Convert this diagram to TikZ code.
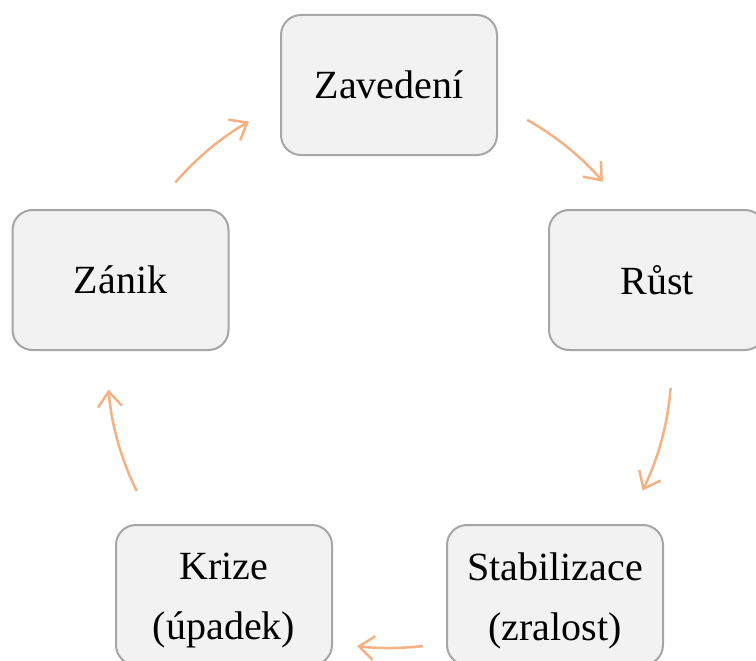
\documentclass[tikz,border=0pt]{standalone}
\usepackage{fontspec}
\setmainfont{Liberation Serif}
\usetikzlibrary{arrows.meta,calc}
\definecolor{boxfill}{HTML}{F2F2F2}
\definecolor{boxline}{HTML}{A6A6A6}
\definecolor{arrcol}{HTML}{F4B183}
\begin{document}
\begin{tikzpicture}[x=1pt,y=-1pt,
  stage/.style={draw=boxline,fill=boxfill,line width=2pt,rounded corners=20pt,
    minimum width=216pt,minimum height=140pt,align=center,inner sep=0pt,
    font=\fontsize{40}{60}\selectfont},
  lbl/.style={align=center,inner sep=0pt,font=\fontsize{40}{60}\selectfont},
  cyc/.style={draw=arrcol,line width=2.5pt,-{Straight Barb[length=15pt,width=24pt]}}]
\useasboundingbox (0,0) rectangle (756,661);
\coordinate (c) at (389.5,366);
\node[stage] (zav) at (389,85) {Zavedení};
\node[stage] (rust) at (657,280) {Růst};
\node[stage] (stab) at (555,595) {};
\node[lbl] (stabt) at ($(stab.center)+(0,6)$) {Stabilizace\\(zralost)};
\node[stage] (krize) at (224,595) {};
\node[lbl] (krizet) at ($(krize.center)+(0,6)$) {Krize\\(úpadek)};
\node[stage] (zanik) at (120.5,280) {Zánik};
\coordinate (a1) at ($(c)+(-60.8:282)$);
\coordinate (a2) at ($(c)+(4.5:282)$);
\coordinate (a3) at ($(c)+(83.2:282)$);
\coordinate (a4) at ($(c)+(153.7:282)$);
\coordinate (a5) at ($(c)+(220.6:282)$);
\draw[cyc] (a1) arc[start angle=-60.8,end angle=-40.8,radius=282];
\draw[cyc] (a2) arc[start angle=4.5,end angle=26.2,radius=282];
\draw[cyc] (a3) arc[start angle=83.2,end angle=96.6,radius=282];
\draw[cyc] (a4) arc[start angle=153.7,end angle=175.2,radius=282];
\draw[cyc] (a5) arc[start angle=220.6,end angle=240.1,radius=282];
\end{tikzpicture}
\end{document}
